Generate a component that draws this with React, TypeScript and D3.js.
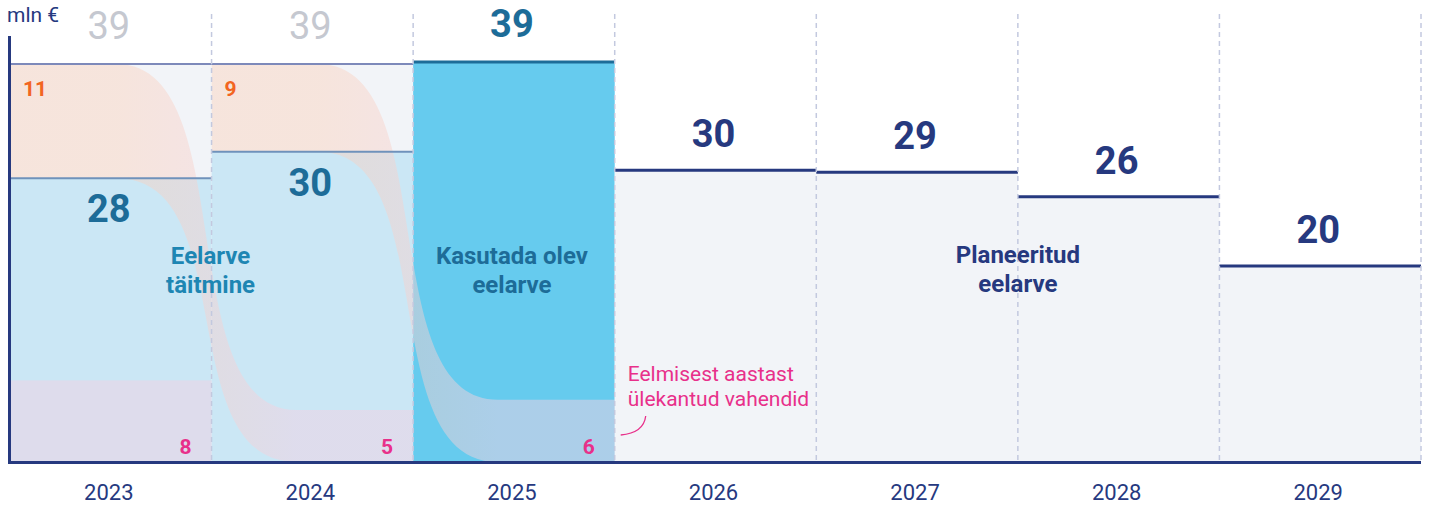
import React from 'react';
import * as d3 from 'd3';

// ---- data ----
const years = ['2023', '2024', '2025', '2026', '2027', '2028', '2029'];
const pastYears = ['2023', '2024', '2025'];
const totalBudget = [39, 39, 39.2];
const executed = [27.8, 30.4];
const executedLabels = ['28', '30'];
const unusedLabels = ['11', '9'];
const carryIn = [8, 5.1, 6.1];
const carryLabels = ['8', '5', '6'];
const plannedYears = ['2026', '2027', '2028', '2029'];
const planned = [28.6, 28.4, 26.0, 19.2];
const topLabels = ['39', '39', '39', '30', '29', '26', '20'];

const W = 1430;
const H = 506;
const NAVY = '#26397f';
const TEAL = '#1d6c98';
const PINK = '#e8308a';
const ORANGE = '#f26522';
const LIGHT = '#f2f4f8';
const BLUE = '#cbe7f5';
const CYAN = '#66cbee';
const FONT = 'Roboto, "Noto Sans", sans-serif';

export default function App() {
  const x = d3.scaleBand<string>().domain(years).range([10, 1421]).padding(0);
  const bw = x.bandwidth();
  const cx = (yr: string) => x(yr)! + bw / 2 - 2;
  const y = d3.scaleLinear().domain([0, 39]).range([462, 64]);
  const y0 = y(0);

  const flows = [0, 1].map((i) => {
    const xs = x(years[i])!;
    const nx = x(years[i + 1])!;
    const xe = nx + bw;
    const lx0 = xs + 0.53 * bw;
    const lx1 = nx + 0.42 * bw;
    const c = 0.7 * (lx1 - lx0);
    const a0 = y(totalBudget[i]);
    const b0 = y(executed[i]);
    const a1 = y(carryIn[i + 1]);
    const b1 = y0;
    const p = d3.path();
    p.moveTo(xs, a0);
    p.lineTo(lx0, a0);
    p.bezierCurveTo(lx0 + c, a0, lx1 - c, a1, lx1, a1);
    p.lineTo(xe, a1);
    p.lineTo(xe, b1);
    p.lineTo(lx1, b1);
    p.bezierCurveTo(lx1 - c, b1, lx0 + c, b0, lx0, b0);
    p.lineTo(xs, b0);
    p.closePath();
    return { d: p.toString(), lx0, lx1, id: `flow${i}` };
  });

  const boundaries = years.map((yr) => x(yr)! + bw);

  return (
    <svg width={W} height={H} style={{ position: 'absolute', left: 0, top: 0, background: '#fff' }} fontFamily={FONT}>
      <defs>
        {flows.map((f) => (
          <linearGradient key={f.id} id={f.id} gradientUnits="userSpaceOnUse" x1={f.lx0} y1={0} x2={f.lx1} y2={0}>
            <stop offset="0" stopColor="rgb(252,207,182)" stopOpacity={0.42} />
            <stop offset="1" stopColor="rgb(242,210,228)" stopOpacity={0.5} />
          </linearGradient>
        ))}
      </defs>

      {/* backgrounds of past years */}
      {pastYears.slice(0, 2).map((yr, i) => (
        <rect key={'bg' + yr} x={x(yr)} y={y(totalBudget[i])} width={bw} height={y0 - y(totalBudget[i])} fill={LIGHT} />
      ))}
      {/* executed */}
      {executed.map((v, i) => (
        <rect key={'ex' + i} x={x(years[i])} y={y(v)} width={bw} height={y0 - y(v)} fill={BLUE} />
      ))}
      {/* available budget 2025 */}
      <rect x={x('2025')} y={y(totalBudget[2])} width={bw} height={y0 - y(totalBudget[2])} fill={CYAN} />
      {/* planned */}
      {planned.map((v, i) => (
        <rect key={'pl' + i} x={x(plannedYears[i])} y={y(v)} width={bw} height={y0 - y(v)} fill={LIGHT} />
      ))}
      {/* carry-in of 2023 (from 2022) */}
      <rect x={x('2023')} y={y(carryIn[0])} width={bw} height={y0 - y(carryIn[0])} fill="rgb(242,210,228)" fillOpacity={0.5} />
      {/* flows */}
      {flows.map((f) => (
        <path key={f.id} d={f.d} fill={`url(#${f.id})`} />
      ))}

      {/* lines */}
      {pastYears.slice(0, 2).map((yr, i) => (
        <line key={'tl' + yr} x1={x(yr)} x2={x(yr)! + bw} y1={y(totalBudget[i])} y2={y(totalBudget[i])} stroke="#7d89ba" strokeWidth={2} />
      ))}
      {executed.map((v, i) => (
        <line key={'el' + i} x1={x(years[i])} x2={x(years[i])! + bw} y1={y(v)} y2={y(v)} stroke="#6f92bb" strokeWidth={2} />
      ))}
      <line x1={x('2025')} x2={x('2025')! + bw} y1={y(totalBudget[2])} y2={y(totalBudget[2])} stroke={TEAL} strokeWidth={3} />
      {planned.map((v, i) => (
        <line key={'pll' + i} x1={x(plannedYears[i])} x2={x(plannedYears[i])! + bw} y1={y(v)} y2={y(v)} stroke={NAVY} strokeWidth={3} />
      ))}

      {/* dashed separators */}
      {boundaries.map((bx, i) => (
        <line key={'d' + i} x1={bx} x2={bx} y1={14} y2={y0} stroke="#c3c9df" strokeWidth={1.5} strokeDasharray="5 4" />
      ))}

      {/* axes */}
      <line x1={9.5} x2={9.5} y1={36} y2={y0 + 1.5} stroke={NAVY} strokeWidth={3} />
      <line x1={8} x2={1421} y1={y0 + 0.5} y2={y0 + 0.5} stroke={NAVY} strokeWidth={3} />
      <text x={7} y={22} fontSize={21} fill={NAVY}>mln €</text>

      {/* year labels */}
      {years.map((yr) => (
        <text key={'yl' + yr} x={cx(yr)} y={500} textAnchor="middle" fontSize={22} fill={NAVY}>{yr}</text>
      ))}

      {/* top value labels */}
      {years.map((yr, i) => {
        const v = i < 3 ? totalBudget[i] : planned[i - 3];
        const past = i < 2;
        const color = past ? '#c5c8d0' : i === 2 ? TEAL : NAVY;
        return (
          <text key={'tv' + yr} x={cx(yr)} y={i < 3 ? y(totalBudget[i]) - 25 : y(v) - 23} textAnchor="middle" fontSize={38} fontWeight={past ? 400 : 700} fill={color}>
            {topLabels[i]}
          </text>
        );
      })}
      {/* executed labels */}
      {executed.map((v, i) => (
        <text key={'exl' + i} x={cx(years[i])} y={y(v) + 44} textAnchor="middle" fontSize={38} fontWeight={700} fill={TEAL}>
          {executedLabels[i]}
        </text>
      ))}
      {/* unused labels */}
      {unusedLabels.map((t, i) => (
        <text key={'un' + i} x={x(years[i])! + 13} y={y(totalBudget[i]) + 32} fontSize={21} fontWeight={700} fill={ORANGE}>{t}</text>
      ))}
      {/* carry labels */}
      {carryLabels.map((t, i) => (
        <text key={'cl' + i} x={x(pastYears[i])! + bw - 20} y={454} textAnchor="end" fontSize={21} fontWeight={700} fill={PINK}>{t}</text>
      ))}

      {/* category labels */}
      <text x={x('2024')! - 1} y={264} textAnchor="middle" fontSize={24} fontWeight={700} fill="#1e86b3">
        <tspan x={x('2024')! - 1} dy={0}>Eelarve</tspan>
        <tspan x={x('2024')! - 1} dy={29}>täitmine</tspan>
      </text>
      <text x={cx('2025')} y={264} textAnchor="middle" fontSize={24} fontWeight={700} fill={TEAL}>
        <tspan x={cx('2025')} dy={0}>Kasutada olev</tspan>
        <tspan x={cx('2025')} dy={29}>eelarve</tspan>
      </text>
      <text x={x('2028')} y={263} textAnchor="middle" fontSize={24} fontWeight={700} fill={NAVY}>
        <tspan x={x('2028')} dy={0}>Planeeritud</tspan>
        <tspan x={x('2028')} dy={29}>eelarve</tspan>
      </text>

      {/* annotation */}
      <text x={x('2026')! + 13} y={381} fontSize={21} fill={PINK}>
        <tspan x={x('2026')! + 13} dy={0}>Eelmisest aastast</tspan>
        <tspan x={x('2026')! + 13} dy={25}>ülekantud vahendid</tspan>
      </text>
      <path d={`M${x('2026')! + 6},435 Q${x('2026')! + 29},433 ${x('2026')! + 31},416`} fill="none" stroke={PINK} strokeWidth={1.3} />
    </svg>
  );
}
